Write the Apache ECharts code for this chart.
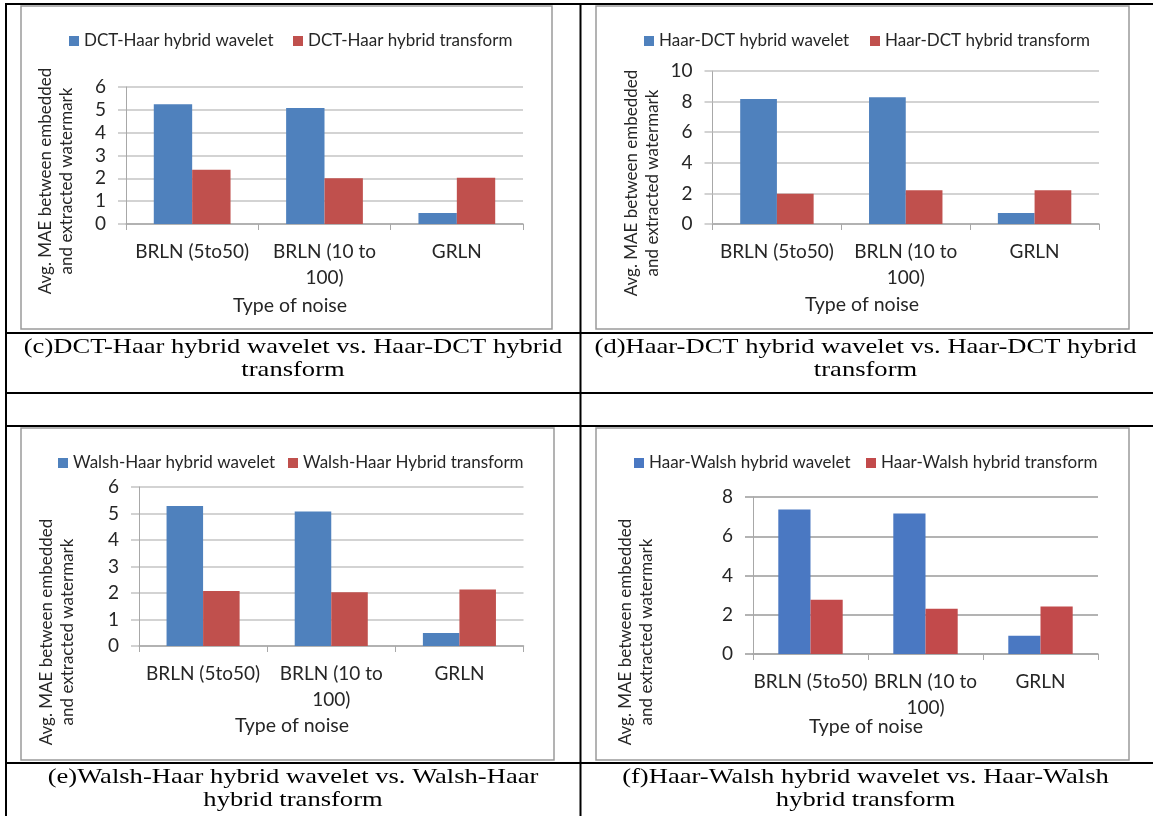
<!DOCTYPE html>
<html><head><meta charset="utf-8">
<script src="https://cdn.jsdelivr.net/npm/echarts@6/dist/echarts.min.js"></script>
<style>html,body{margin:0;padding:0;background:#fff}#c{width:1153px;height:816px}</style>
</head><body><div id="c"></div>
<script>
// ---- data ----
const categories = ['BRLN (5to50)', 'BRLN (10 to 100)', 'GRLN'];
const tickLabels = ['BRLN (5to50)', 'BRLN (10 to\n100)', 'GRLN'];
const xTitle = 'Type of noise';
const yTitle1 = 'Avg. MAE between embedded';
const yTitle2 = 'and extracted watermark';

const namesC = ['DCT-Haar hybrid wavelet', 'DCT-Haar hybrid transform'];
const waveletC = [5.25, 5.08, 0.48];
const transformC = [2.38, 2.0, 2.03];

const namesD = ['Haar-DCT hybrid wavelet', 'Haar-DCT hybrid transform'];
const waveletD = [8.17, 8.28, 0.72];
const transformD = [1.98, 2.2, 2.2];

const namesE = ['Walsh-Haar hybrid wavelet', 'Walsh-Haar Hybrid transform'];
const waveletE = [5.28, 5.08, 0.49];
const transformE = [2.08, 2.03, 2.13];

const namesF = ['Haar-Walsh hybrid wavelet', 'Haar-Walsh hybrid transform'];
const waveletF = [7.36, 7.16, 0.93];
const transformF = [2.76, 2.3, 2.42];

const yMax = [6, 10, 6, 8];
const yStep = [1, 2, 1, 2];

const captionC = '(c)DCT-Haar hybrid wavelet vs. Haar-DCT hybrid\ntransform';
const captionD = '(d)Haar-DCT hybrid wavelet vs. Haar-DCT hybrid\ntransform';
const captionE = '(e)Walsh-Haar hybrid wavelet vs. Walsh-Haar\nhybrid transform';
const captionF = '(f)Haar-Walsh hybrid wavelet vs. Haar-Walsh\nhybrid transform';

// ---- layout ----
const FONT = 'Lato, "Open Sans", sans-serif';
const FS_LEG = 17, FS_XL = 19, FS_YL = 19, FS_XT = 19.5, FS_YT = 17;
const TXT = '#262626';
const panels = [
  { names: namesC, w: waveletC, t: transformC, caption: captionC,
    grid: {left:126, top:87, width:397, height:137}, gap:'42%',
    leg:[69, 293], legY:41, frame:[21,6,531,323],
    yt:[46,67,181], xt:[290,306], cap:[293,336], grid2:'#c4c4c4', blue:'#4F81BD', red:'#C0504D' },
  { names: namesD, w: waveletD, t: transformD, caption: captionD,
    grid: {left:712.5, top:71, width:386.5, height:153}, gap:'43%',
    leg:[644, 870], legY:41, frame:[596,6,533,323],
    yt:[632,653,183], xt:[862,305], cap:[865.5,336], grid2:'#c4c4c4', blue:'#4F81BD', red:'#C0504D' },
  { names: namesE, w: waveletE, t: transformE, caption: captionE,
    grid: {left:139, top:487, width:384.5, height:159}, gap:'43%',
    leg:[58, 288], legY:463, frame:[21,428,533,332],
    yt:[47,68,632], xt:[292,726], cap:[293,766], grid2:'#c4c4c4', blue:'#4F81BD', red:'#C0504D' },
  { names: namesF, w: waveletF, t: transformF, caption: captionF,
    grid: {left:753, top:497, width:345, height:157}, gap:'44%',
    leg:[634, 866], legY:463, frame:[596,428,533,332],
    yt:[626,647,632], xt:[866,727], cap:[865.5,766], grid2:'#9a9a9a', blue:'#4A78C2', red:'#C24A4B' }
];

const grid = [], xAxis = [], yAxis = [], series = [], legend = [], graphic = [];

panels.forEach((p, i) => {
  grid.push(Object.assign({containLabel:false}, p.grid));
  xAxis.push({
    gridIndex:i, type:'category', data:categories,
    axisLine:{lineStyle:{color:'#a8a8a8', width:1.5}},
    axisTick:{show:true, length:6, lineStyle:{color:'#a8a8a8'}},
    axisLabel:{interval:0, margin:15, fontSize:FS_XL, lineHeight:26, color:TXT, fontFamily:FONT,
      formatter:(v, idx) => tickLabels[idx]}
  });
  yAxis.push({
    gridIndex:i, type:'value', min:0, max:yMax[i], interval:yStep[i],
    axisLine:{show:true, lineStyle:{color:'#a8a8a8'}},
    axisTick:{show:true, length:8, lineStyle:{color:p.grid2, width:1.5}},
    splitLine:{lineStyle:{color:p.grid2, width:1.5}},
    axisLabel:{margin:20, fontSize:FS_YL, color:TXT, fontFamily:FONT}
  });
  series.push({name:p.names[0], type:'bar', xAxisIndex:i, yAxisIndex:i, data:p.w,
    barGap:'0%', barCategoryGap:p.gap, itemStyle:{color:p.blue}, animation:false});
  series.push({name:p.names[1], type:'bar', xAxisIndex:i, yAxisIndex:i, data:p.t,
    barGap:'0%', barCategoryGap:p.gap, itemStyle:{color:p.red}, animation:false});
  [0,1].forEach(k => legend.push({
    data:[p.names[k]], left:p.leg[k], top:p.legY-10, padding:0,
    itemWidth:10, itemHeight:10, icon:'rect', itemGap:5, selectedMode:false,
    textStyle:{fontSize:FS_LEG, color:TXT, fontFamily:FONT, lineHeight:20}
  }));
  graphic.push({type:'rect', z:-10, shape:{x:p.frame[0], y:p.frame[1], width:p.frame[2], height:p.frame[3]},
    style:{fill:'#fff', stroke:'#9a9a9a', lineWidth:1.5}});
  graphic.push({type:'text', x:p.yt[0], y:p.yt[2], rotation:Math.PI/2,
    style:{text:yTitle1, font:`${FS_YT}px ${FONT}`, fill:TXT, textAlign:'center', textVerticalAlign:'middle'}});
  graphic.push({type:'text', x:p.yt[1], y:p.yt[2], rotation:Math.PI/2,
    style:{text:yTitle2, font:`${FS_YT}px ${FONT}`, fill:TXT, textAlign:'center', textVerticalAlign:'middle'}});
  graphic.push({type:'text', x:p.xt[0], y:p.xt[1],
    style:{text:xTitle, font:`${FS_XT}px ${FONT}`, fill:TXT, textAlign:'center', textVerticalAlign:'middle'}});
  graphic.push({type:'text', x:p.cap[0], y:p.cap[1], scaleX:1.265,
    style:{text:p.caption, font:'21px "Liberation Serif", "Times New Roman", serif', lineHeight:23,
      fill:'#000', textAlign:'center', textVerticalAlign:'top'}});
});

// table rules
const L = (x1,y1,x2,y2) => graphic.push({type:'line', z:20, shape:{x1,y1,x2,y2}, style:{stroke:'#000', lineWidth:2}});
L(5,4,1153,4);
L(5,333,1153,333);
L(5,393,1153,393);
L(5,426,1153,426);
L(5,763,1153,763);
L(6,3,6,816);
L(580.5,3,580.5,816);

const chart = echarts.init(document.getElementById('c'), null, {renderer:'canvas'});
chart.setOption({backgroundColor:'#fff', animation:false, grid, xAxis, yAxis, series, legend, graphic});
</script></body></html>
